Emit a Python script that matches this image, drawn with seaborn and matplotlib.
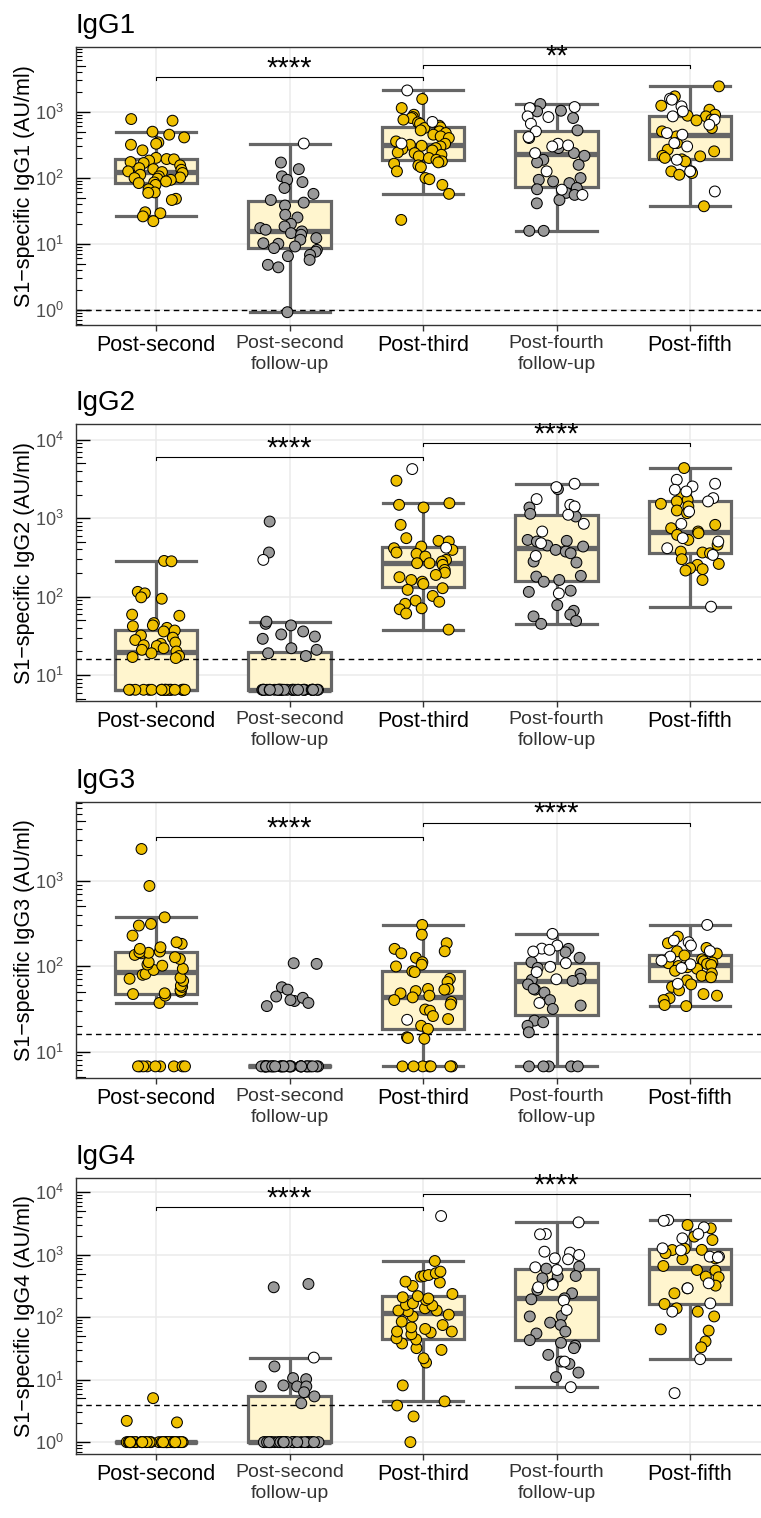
import numpy as np
import pandas as pd
import matplotlib
matplotlib.use("Agg")
import matplotlib.pyplot as plt
import matplotlib.ticker as mticker
import matplotlib.transforms as mtrans
import seaborn as sns

# ---- data (AU/ml) ----
groups = ["Post-second", "Post-second\nfollow-up", "Post-third",
          "Post-fourth\nfollow-up", "Post-fifth"]
peak_groups = [0, 2, 4]

# IgG1
igg1_post2 = [774, 731, 498, 449, 408, 343, 327, 316, 260, 200, 192, 190, 182, 173,
              167, 154, 140, 135, 132, 125, 122, 118, 111, 105, 101, 99, 97, 93, 88,
              85, 83, 78, 67, 60, 59, 48, 46, 30, 29, 26, 22]
igg1_post2fu = [170, 135, 105, 93, 86, 70, 57, 46, 42, 38, 27.5, 25, 20, 18.3, 17.3,
                16.3, 15.4, 14.5, 13.7, 12.2, 11.5, 10.2, 10, 9.1, 8.6, 8.1, 7.6, 6.8,
                6.5, 5.7, 4.8, 4.4, 0.92]
igg1_post2fu_open = [330]
igg1_post3 = [1560, 1137, 900, 830, 802, 757, 689, 658, 614, 579, 566, 522, 504, 475,
              449, 423, 399, 355, 327, 316, 305, 298, 281, 272, 259, 242, 236, 223,
              211, 199, 187, 177, 171, 163, 154, 145, 125, 99, 95, 78, 57, 23]
igg1_post3_open = [2100, 700, 330]
igg1_post4fu = [1307, 1035, 1012, 802, 522, 399, 281, 236, 215, 187, 171, 157, 99, 93,
                88, 83, 70, 67, 59, 55, 46, 41, 15.7, 15.7]
igg1_post4fu_open = [1177, 1137, 850, 830, 658, 504, 413, 327, 309, 298, 236, 125, 66, 55]
igg1_post5 = [2420, 1708, 1233, 1072, 900, 870, 850, 757, 739, 566, 504, 423, 335, 266,
              251, 215, 211, 200, 190, 177, 125, 125, 118, 111, 37]
igg1_post5_open = [1574, 1520, 1205, 1012, 850, 757, 635, 475, 449, 335, 298, 187, 125, 62]

# IgG2
igg2_post2 = [6.5] * 20 + [285, 282, 115, 110, 98, 94, 59, 57, 46, 43, 42, 40, 37, 36,
                           32, 30, 28, 26, 25, 24, 23.5, 22, 21, 20, 19, 17.5, 16.5, 17]
igg2_post2fu = [6.5] * 34 + [17.5, 19, 21, 22, 29, 31, 33, 36, 43, 45, 48, 365, 906]
igg2_post2fu_open = [294]
igg2_post3 = [3000, 1553, 1479, 1368, 822, 556, 514, 504, 435, 414, 394, 365, 351, 324,
              294, 280, 267, 267, 254, 219, 202, 189, 177, 163, 155, 145, 128, 122, 102,
              89, 86, 81, 71, 69, 61, 38]
igg2_post3_open = [4223, 420]
igg2_post4fu = [2344, 1368, 1343, 1136, 1050, 528, 514, 504, 448, 435, 394, 375, 357,
                280, 272, 184, 180, 163, 155, 119, 115, 78, 66, 59, 56, 49, 45]
igg2_post4fu_open = [2744, 2487, 1750, 1479, 1409, 1104, 847, 676, 480, 330, 110]
igg2_post5 = [4350, 1986, 1714, 1634, 1524, 1409, 1253, 1158, 822, 745, 676, 644, 612,
              528, 457, 375, 365, 357, 300, 261, 254, 230, 224, 215, 163]
igg2_post5_open = [3083, 2744, 2535, 2301, 2190, 1800, 1634, 1216, 847, 556, 504, 414,
                   340, 74.5]

# IgG3
igg3_post2 = [6.7] * 9 + [37, 45, 47, 48, 50, 52, 57, 59, 67, 71, 73, 79, 81, 90, 93,
                          101, 104, 111, 121, 127, 135, 141, 143, 145, 148, 159, 166,
                          182, 190, 227, 298, 311, 372, 866, 2345]
igg3_post2fu = [6.7] * 32 + [106, 108, 56.5, 53, 44, 39, 42.5, 40, 37, 34]
igg3_post3 = [6.7] * 7 + [303, 233, 185, 159, 149, 141, 125, 111, 104, 99, 87, 85, 71,
                          65, 54, 54, 53, 51, 48, 45, 43, 40, 38, 35.5, 31, 30, 26, 24,
                          20, 18.4, 14.7, 14.4, 14.1]
igg3_post3_open = [23.5]
igg3_post4fu = [6.7] * 5 + [159, 145, 125, 111, 95, 81, 71, 69, 67, 61, 53, 54, 49, 40,
                            34.5, 31.5, 23, 22, 20, 16.8]
igg3_post4fu_open = [238, 174, 160, 155, 148, 108, 98, 85, 70, 37]
igg3_post5 = [221, 185, 163, 149, 140, 133, 125, 120, 114, 110, 108, 106, 103, 100, 97,
              93, 88, 82, 77, 74, 68, 61, 57, 52, 47, 45, 42, 40, 35, 34]
igg3_post5_open = [303, 199, 190, 174, 150, 129, 116, 105, 95, 62]

# IgG4
igg4_post2 = [1.0] * 40 + [5.06, 2.07, 2.19]
igg4_post2fu = [1.0] * 32 + [341, 302, 16.3, 10.2, 10.6, 7.8, 7.8, 8.1, 7.8, 6.3, 5.4, 4.2]
igg4_post2fu_open = [22.6]
igg4_post3 = [1.0, 2.58, 3.86, 4.5, 8.1, 18.8, 22, 30, 32, 38, 44, 46, 53.5, 57, 59, 59,
              65, 69, 75, 85, 103, 110, 125, 128, 128, 139, 154, 158, 167, 189, 200,
              209, 218, 236, 317, 360, 372, 448, 458, 475, 506, 538, 796]
igg4_post3_open = [4180]
igg4_post4fu = [647, 600, 458, 448, 421, 273, 242, 201, 194, 105, 103, 82, 75, 59, 55,
                43, 39, 35, 32, 25, 19.5, 17.9, 13, 11]
igg4_post4fu_open = [3311, 2154, 2130, 1122, 1084, 993, 879, 848, 631, 571, 341, 330,
                     302, 185, 131, 19.5, 7.6]
igg4_post5 = [3000, 2655, 1954, 1726, 1250, 1200, 1194, 1059, 879, 848, 662, 571, 560,
              448, 437, 321, 291, 242, 163, 139, 123, 103, 64, 61, 41, 33]
igg4_post5_open = [3606, 3500, 2754, 2154, 1837, 1180, 1271, 935, 935, 912, 350, 291,
                   167, 123, 21.3, 6.1]

subclasses = ["IgG1", "IgG2", "IgG3", "IgG4"]
filled = [
    [igg1_post2, igg1_post2fu, igg1_post3, igg1_post4fu, igg1_post5],
    [igg2_post2, igg2_post2fu, igg2_post3, igg2_post4fu, igg2_post5],
    [igg3_post2, igg3_post2fu, igg3_post3, igg3_post4fu, igg3_post5],
    [igg4_post2, igg4_post2fu, igg4_post3, igg4_post4fu, igg4_post5],
]
hollow = [
    [[], igg1_post2fu_open, igg1_post3_open, igg1_post4fu_open, igg1_post5_open],
    [[], igg2_post2fu_open, igg2_post3_open, igg2_post4fu_open, igg2_post5_open],
    [[], [], igg3_post3_open, igg3_post4fu_open, igg3_post5_open],
    [[], igg4_post2fu_open, igg4_post3_open, igg4_post4fu_open, igg4_post5_open],
]
cutoffs = [1.0, 16, 16, 4]
stars = [["****", "**"], ["****", "****"], ["****", "****"], ["****", "****"]]

# ---- layout (pixels / log10 limits) ----
W, H = 761, 1518
left_px, right_px = 76, 761
tops = [47, 424, 802, 1178]
bottoms = [325, 701, 1078, 1454]
ylims = [(-0.23, 3.98), (0.67, 4.2), (0.69, 3.92), (-0.19, 4.23)]
bracket_y = [(3.52, 3.70), (3.78, 3.96), (3.51, 3.68), (3.76, 3.97)]

gold, grey, white = "#EFC000", "#999999", "#FFFFFF"
box_fill, box_edge = "#FFF5CE", "#666666"

plt.rcParams["font.family"] = ["Liberation Sans", "DejaVu Sans"]
np.random.seed(7)


def long_frame(fl, ho):
    rows = []
    for i, g in enumerate(groups):
        kind = "peak" if i in peak_groups else "follow"
        rows += [(g, v, kind) for v in fl[i]]
        rows += [(g, v, "open") for v in ho[i]]
    return pd.DataFrame(rows, columns=["group", "value", "kind"])


fig = plt.figure(figsize=(W / 100, H / 100), dpi=100)
fig.patch.set_facecolor("white")

for p, name in enumerate(subclasses):
    df = long_frame(filled[p], hollow[p])
    ax = fig.add_axes([left_px / W, 1 - bottoms[p] / H,
                       (right_px - left_px) / W, (bottoms[p] - tops[p]) / H])
    ax.set_yscale("log")

    sns.boxplot(data=df, x="group", y="value", order=groups, color=box_fill,
                saturation=1, linecolor=box_edge, linewidth=2.3, width=0.62,
                showfliers=False, whis=1.5, capwidths=0.6,
                medianprops={"linewidth": 3.8}, ax=ax)
    n_before = len(ax.collections)
    sns.stripplot(data=df, x="group", y="value", order=groups, hue="kind",
                  hue_order=["peak", "follow", "open"],
                  palette={"peak": gold, "follow": grey, "open": white},
                  jitter=0.22, size=7.8, linewidth=0.75, edgecolor="black",
                  legend=False, ax=ax)
    for c in ax.collections[n_before:]:
        c.set_zorder(3)

    ax.axhline(cutoffs[p], color="black", lw=1.0, dashes=(4, 3), zorder=2.5)

    # significance brackets
    for (x1, x2), yb, lab in zip([(0, 2), (2, 4)], bracket_y[p], stars[p]):
        y = 10 ** yb
        ax.plot([x1, x1, x2, x2], [y * 0.92, y, y, y * 0.92], color="black",
                lw=0.8, zorder=4)
        ax.annotate(lab, xy=((x1 + x2) / 2, y), xytext=(0, 0.5),
                    textcoords="offset points", ha="center", va="baseline",
                    fontsize=21, zorder=4)

    ax.set_xlim(-0.6, (right_px - 156) / 133.5)
    ax.set_ylim(10 ** ylims[p][0], 10 ** ylims[p][1])

    # log ticks drawn inside, like annotation_logticks
    ax.yaxis.set_major_locator(mticker.LogLocator(base=10, numticks=15))
    ax.yaxis.set_minor_locator(mticker.LogLocator(base=10, subs=np.arange(2, 10),
                                                  numticks=15))
    ax.yaxis.set_minor_formatter(mticker.NullFormatter())
    ax.tick_params(axis="y", which="major", direction="in", length=10, width=1.0,
                   color="black", pad=9, labelsize=13, labelcolor="#4D4D4D")
    ax.tick_params(axis="y", which="minor", direction="in", length=4, width=0.8,
                   color="black")
    trans = mtrans.blended_transform_factory(ax.transAxes, ax.transData)
    mid_len = 6.5 / 72 * 100 / (right_px - left_px)
    for k in range(int(np.floor(ylims[p][0])), int(np.ceil(ylims[p][1])) + 1):
        y5 = 5 * 10 ** k
        if 10 ** ylims[p][0] < y5 < 10 ** ylims[p][1]:
            ax.plot([0, mid_len], [y5, y5], transform=trans, color="black", lw=0.8)

    ax.set_xticks(range(len(groups)))
    ax.set_xticklabels(groups)
    ax.tick_params(axis="x", direction="out", length=4, width=1, color="#333333", pad=3)
    for i, t in enumerate(ax.get_xticklabels()):
        if i in peak_groups:
            t.set_fontsize(15.5)
            t.set_color("black")
        else:
            t.set_fontsize(14)
            t.set_color("#333333")
            t.set_linespacing(1.3)

    ax.grid(True, which="major", color="#EBEBEB", lw=1.1)
    ax.set_axisbelow(True)
    for side in ["left", "bottom", "top"]:
        ax.spines[side].set_color("#333333")
        ax.spines[side].set_linewidth(1.0)
    ax.spines["right"].set_visible(False)

    ax.set_xlabel("")
    ax.set_ylabel(f"S1\u2212specific {name} (AU/ml)", fontsize=15.5, va="center")
    ax.yaxis.set_label_coords(-(left_px - 25) / (right_px - left_px), 0.5)
    ax.set_title(name, loc="left", fontsize=20, pad=10)

fig.savefig("out.png", dpi=100)
